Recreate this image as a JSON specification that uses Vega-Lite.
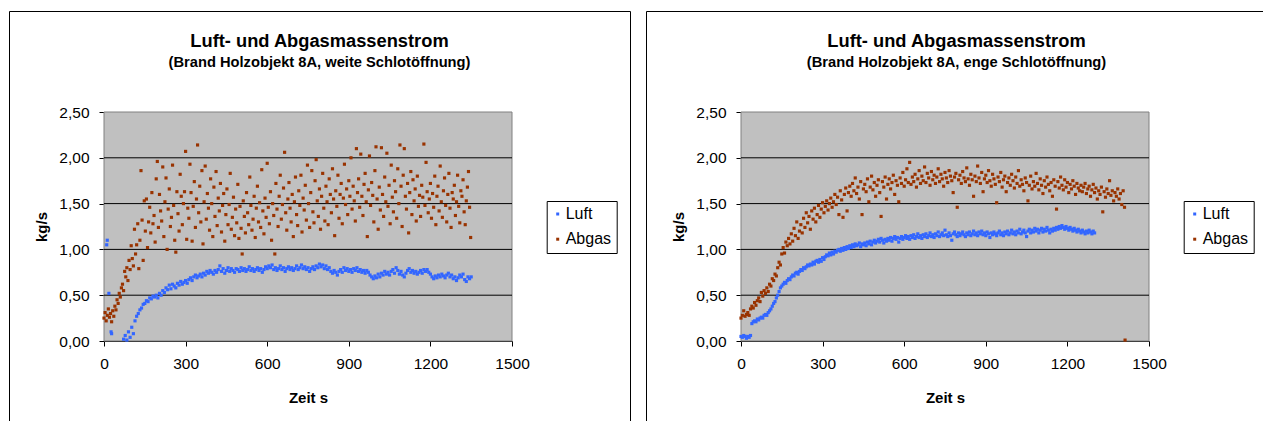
{
"$schema": "https://vega.github.io/schema/vega-lite/v6.json",
"padding": {"left": 8, "top": 10, "right": 0, "bottom": 0},
"background": "white",
"spacing": 14,
"config": {
  "view": {"stroke": "black", "strokeWidth": 1, "fill": "white"},
  "font": "Liberation Sans",
  "axis": {"grid": false, "domainColor": "black", "tickColor": "black", "tickSize": 5, "labelColor": "black", "titleColor": "black", "labelFont": "Liberation Sans", "labelFontSize": 15.5, "titleFont": "Liberation Sans", "titleFontSize": 15, "titleFontWeight": "bold", "zindex": 1, "labelFlush": false, "labelOverlap": false},
  "legend": {"orient": "none", "legendX": 537.7, "legendY": 190, "title": null, "padding": 5, "strokeColor": "black", "fillColor": "white", "symbolType": "square", "symbolSize": 9, "symbolOffset": -2, "labelOffset": 0, "labelFont": "Liberation Sans", "labelFontSize": 16, "labelColor": "black", "rowPadding": 9.2, "symbolStrokeWidth": 0},
  "title": {"font": "Liberation Sans", "fontSize": 18.3, "fontWeight": "bold", "color": "black", "subtitleFont": "Liberation Sans", "subtitleFontSize": 14.7, "subtitleFontWeight": "bold", "subtitleColor": "black", "offset": -60, "subtitlePadding": 4, "anchor": "middle", "frame": "group"}
},
"resolve": {"scale": {"color": "independent"}, "legend": {"color": "independent"}},
"datasets": {
"plot": [{"x0": 0, "x1": 1500, "y0": 0, "y1": 2.5}],
"grid": [{"g":0.5},{"g":1},{"g":1.5},{"g":2}],
"wL": [{"t":10,"v":1.05},{"t":12,"v":1.1},{"t":18,"v":0.52},{"t":26,"v":0.1},{"t":28,"v":0.08},{"t":72,"v":0.02},{"t":78,"v":0.06},{"t":84,"v":0.01},{"t":90,"v":0.1},{"t":96,"v":0.04},{"t":102,"v":0.15},{"t":108,"v":0.08},{"t":114,"v":0.22},{"t":120,"v":0.27},{"t":126,"v":0.3},{"t":132,"v":0.34},{"t":138,"v":0.36},{"t":144,"v":0.4},{"t":150,"v":0.41},{"t":156,"v":0.44},{"t":162,"v":0.43},{"t":168,"v":0.47},{"t":174,"v":0.46},{"t":180,"v":0.49},{"t":186,"v":0.48},{"t":192,"v":0.5},{"t":198,"v":0.47},{"t":204,"v":0.52},{"t":210,"v":0.5},{"t":216,"v":0.55},{"t":222,"v":0.53},{"t":228,"v":0.58},{"t":234,"v":0.56},{"t":240,"v":0.61},{"t":246,"v":0.57},{"t":252,"v":0.62},{"t":258,"v":0.6},{"t":264,"v":0.58},{"t":270,"v":0.63},{"t":276,"v":0.61},{"t":282,"v":0.65},{"t":288,"v":0.62},{"t":294,"v":0.64},{"t":300,"v":0.66},{"t":306,"v":0.63},{"t":312,"v":0.67},{"t":318,"v":0.69},{"t":324,"v":0.66},{"t":330,"v":0.7},{"t":336,"v":0.72},{"t":342,"v":0.69},{"t":348,"v":0.71},{"t":354,"v":0.73},{"t":360,"v":0.7},{"t":366,"v":0.74},{"t":372,"v":0.72},{"t":378,"v":0.76},{"t":384,"v":0.74},{"t":390,"v":0.77},{"t":396,"v":0.75},{"t":402,"v":0.73},{"t":408,"v":0.77},{"t":414,"v":0.75},{"t":420,"v":0.78},{"t":426,"v":0.82},{"t":432,"v":0.76},{"t":438,"v":0.79},{"t":444,"v":0.74},{"t":450,"v":0.77},{"t":456,"v":0.8},{"t":462,"v":0.76},{"t":468,"v":0.79},{"t":474,"v":0.77},{"t":480,"v":0.75},{"t":486,"v":0.79},{"t":492,"v":0.78},{"t":498,"v":0.76},{"t":504,"v":0.8},{"t":510,"v":0.77},{"t":516,"v":0.79},{"t":522,"v":0.76},{"t":528,"v":0.78},{"t":534,"v":0.81},{"t":540,"v":0.77},{"t":546,"v":0.79},{"t":552,"v":0.76},{"t":558,"v":0.78},{"t":564,"v":0.8},{"t":570,"v":0.77},{"t":576,"v":0.79},{"t":582,"v":0.75},{"t":588,"v":0.78},{"t":594,"v":0.81},{"t":600,"v":0.79},{"t":606,"v":0.82},{"t":612,"v":0.8},{"t":618,"v":0.83},{"t":624,"v":0.78},{"t":630,"v":0.8},{"t":636,"v":0.77},{"t":642,"v":0.79},{"t":648,"v":0.82},{"t":654,"v":0.78},{"t":660,"v":0.8},{"t":666,"v":0.76},{"t":672,"v":0.79},{"t":678,"v":0.81},{"t":684,"v":0.78},{"t":690,"v":0.8},{"t":696,"v":0.77},{"t":702,"v":0.79},{"t":708,"v":0.82},{"t":714,"v":0.78},{"t":720,"v":0.8},{"t":726,"v":0.83},{"t":732,"v":0.79},{"t":738,"v":0.81},{"t":744,"v":0.78},{"t":750,"v":0.8},{"t":756,"v":0.76},{"t":762,"v":0.79},{"t":768,"v":0.81},{"t":774,"v":0.78},{"t":780,"v":0.82},{"t":786,"v":0.8},{"t":792,"v":0.84},{"t":798,"v":0.81},{"t":804,"v":0.83},{"t":810,"v":0.79},{"t":816,"v":0.82},{"t":822,"v":0.78},{"t":828,"v":0.8},{"t":834,"v":0.76},{"t":840,"v":0.74},{"t":846,"v":0.77},{"t":852,"v":0.75},{"t":858,"v":0.72},{"t":864,"v":0.76},{"t":870,"v":0.78},{"t":876,"v":0.75},{"t":882,"v":0.8},{"t":888,"v":0.77},{"t":894,"v":0.79},{"t":900,"v":0.76},{"t":906,"v":0.78},{"t":912,"v":0.75},{"t":918,"v":0.79},{"t":924,"v":0.77},{"t":930,"v":0.8},{"t":936,"v":0.76},{"t":942,"v":0.78},{"t":948,"v":0.75},{"t":954,"v":0.77},{"t":960,"v":0.74},{"t":966,"v":0.77},{"t":972,"v":0.75},{"t":978,"v":0.72},{"t":984,"v":0.7},{"t":990,"v":0.68},{"t":996,"v":0.71},{"t":1002,"v":0.69},{"t":1008,"v":0.73},{"t":1014,"v":0.7},{"t":1020,"v":0.74},{"t":1026,"v":0.72},{"t":1032,"v":0.76},{"t":1038,"v":0.73},{"t":1044,"v":0.75},{"t":1050,"v":0.72},{"t":1056,"v":0.76},{"t":1062,"v":0.78},{"t":1068,"v":0.74},{"t":1074,"v":0.8},{"t":1080,"v":0.77},{"t":1086,"v":0.73},{"t":1092,"v":0.76},{"t":1098,"v":0.72},{"t":1104,"v":0.7},{"t":1110,"v":0.74},{"t":1116,"v":0.77},{"t":1122,"v":0.79},{"t":1128,"v":0.75},{"t":1134,"v":0.77},{"t":1140,"v":0.74},{"t":1146,"v":0.76},{"t":1152,"v":0.73},{"t":1158,"v":0.75},{"t":1164,"v":0.77},{"t":1170,"v":0.74},{"t":1176,"v":0.78},{"t":1182,"v":0.76},{"t":1188,"v":0.78},{"t":1194,"v":0.75},{"t":1200,"v":0.73},{"t":1206,"v":0.7},{"t":1212,"v":0.68},{"t":1218,"v":0.71},{"t":1224,"v":0.69},{"t":1230,"v":0.72},{"t":1236,"v":0.7},{"t":1242,"v":0.73},{"t":1248,"v":0.71},{"t":1254,"v":0.69},{"t":1260,"v":0.72},{"t":1266,"v":0.74},{"t":1272,"v":0.7},{"t":1278,"v":0.72},{"t":1284,"v":0.68},{"t":1290,"v":0.7},{"t":1296,"v":0.66},{"t":1302,"v":0.69},{"t":1308,"v":0.72},{"t":1314,"v":0.7},{"t":1320,"v":0.73},{"t":1326,"v":0.67},{"t":1332,"v":0.65},{"t":1338,"v":0.7},{"t":1344,"v":0.68},{"t":1350,"v":0.7}],
"wA": [{"t":0,"v":0.25},{"t":4,"v":0.31},{"t":8,"v":0.22},{"t":12,"v":0.28},{"t":16,"v":0.35},{"t":20,"v":0.26},{"t":24,"v":0.3},{"t":28,"v":0.21},{"t":32,"v":0.33},{"t":36,"v":0.27},{"t":40,"v":0.38},{"t":44,"v":0.34},{"t":48,"v":0.45},{"t":52,"v":0.41},{"t":56,"v":0.52},{"t":60,"v":0.48},{"t":64,"v":0.58},{"t":68,"v":0.62},{"t":72,"v":0.55},{"t":76,"v":0.76},{"t":80,"v":0.7},{"t":84,"v":0.8},{"t":88,"v":0.66},{"t":92,"v":0.88},{"t":96,"v":0.78},{"t":100,"v":1.04},{"t":104,"v":0.9},{"t":108,"v":0.82},{"t":112,"v":1.22},{"t":116,"v":0.95},{"t":120,"v":1.05},{"t":124,"v":1.28},{"t":128,"v":0.79},{"t":132,"v":1.1},{"t":136,"v":1.86},{"t":140,"v":1.32},{"t":144,"v":0.88},{"t":148,"v":1.53},{"t":152,"v":1.2},{"t":156,"v":1.55},{"t":160,"v":1.02},{"t":164,"v":1.3},{"t":168,"v":1.46},{"t":172,"v":1.18},{"t":176,"v":1.62},{"t":180,"v":1.28},{"t":184,"v":1.37},{"t":188,"v":1.08},{"t":192,"v":1.77},{"t":196,"v":1.96},{"t":200,"v":1.24},{"t":204,"v":1.6},{"t":208,"v":1.42},{"t":212,"v":1.31},{"t":216,"v":1.9},{"t":220,"v":1.14},{"t":224,"v":1.52},{"t":228,"v":1.78},{"t":232,"v":1.0},{"t":236,"v":1.44},{"t":240,"v":1.66},{"t":244,"v":1.25},{"t":248,"v":1.35},{"t":252,"v":1.92},{"t":256,"v":1.48},{"t":260,"v":1.1},{"t":264,"v":0.97},{"t":268,"v":1.63},{"t":272,"v":1.39},{"t":276,"v":1.2},{"t":280,"v":1.82},{"t":284,"v":1.58},{"t":288,"v":1.27},{"t":292,"v":1.5},{"t":296,"v":1.63},{"t":300,"v":2.07},{"t":304,"v":1.11},{"t":308,"v":1.45},{"t":312,"v":1.34},{"t":316,"v":1.93},{"t":320,"v":1.62},{"t":324,"v":1.09},{"t":328,"v":1.47},{"t":332,"v":1.74},{"t":336,"v":1.24},{"t":340,"v":1.55},{"t":344,"v":2.14},{"t":348,"v":1.4},{"t":352,"v":1.69},{"t":356,"v":1.3},{"t":360,"v":1.86},{"t":364,"v":1.06},{"t":368,"v":1.52},{"t":372,"v":1.91},{"t":376,"v":1.33},{"t":380,"v":1.61},{"t":384,"v":1.45},{"t":388,"v":1.21},{"t":392,"v":1.77},{"t":396,"v":1.5},{"t":400,"v":1.14},{"t":404,"v":1.68},{"t":408,"v":1.36},{"t":412,"v":1.85},{"t":416,"v":1.26},{"t":420,"v":1.56},{"t":424,"v":1.42},{"t":428,"v":1.72},{"t":432,"v":1.19},{"t":436,"v":1.48},{"t":440,"v":1.61},{"t":444,"v":1.09},{"t":448,"v":1.38},{"t":452,"v":1.66},{"t":456,"v":1.27},{"t":460,"v":1.49},{"t":464,"v":1.83},{"t":468,"v":1.22},{"t":472,"v":1.35},{"t":476,"v":1.57},{"t":480,"v":1.15},{"t":484,"v":1.44},{"t":488,"v":1.29},{"t":492,"v":1.71},{"t":496,"v":1.12},{"t":500,"v":1.47},{"t":504,"v":1.23},{"t":508,"v":0.95},{"t":512,"v":1.53},{"t":516,"v":1.36},{"t":520,"v":1.18},{"t":524,"v":1.62},{"t":528,"v":1.4},{"t":532,"v":1.27},{"t":536,"v":1.79},{"t":540,"v":1.48},{"t":544,"v":1.21},{"t":548,"v":1.33},{"t":552,"v":1.58},{"t":556,"v":1.13},{"t":560,"v":1.45},{"t":564,"v":1.69},{"t":568,"v":1.3},{"t":572,"v":1.51},{"t":576,"v":1.24},{"t":580,"v":1.87},{"t":584,"v":1.42},{"t":588,"v":1.17},{"t":592,"v":1.56},{"t":596,"v":1.35},{"t":600,"v":1.94},{"t":604,"v":1.46},{"t":608,"v":1.28},{"t":612,"v":1.63},{"t":616,"v":1.1},{"t":620,"v":1.5},{"t":624,"v":1.37},{"t":628,"v":0.95},{"t":632,"v":1.72},{"t":636,"v":1.44},{"t":640,"v":1.25},{"t":644,"v":1.58},{"t":648,"v":1.81},{"t":652,"v":1.33},{"t":656,"v":1.49},{"t":660,"v":1.67},{"t":664,"v":2.06},{"t":668,"v":1.4},{"t":672,"v":1.21},{"t":676,"v":1.55},{"t":680,"v":1.73},{"t":684,"v":1.45},{"t":688,"v":1.3},{"t":692,"v":1.6},{"t":696,"v":1.14},{"t":700,"v":1.52},{"t":704,"v":1.79},{"t":708,"v":1.38},{"t":712,"v":1.26},{"t":716,"v":1.64},{"t":720,"v":1.48},{"t":724,"v":1.81},{"t":728,"v":1.19},{"t":732,"v":1.56},{"t":736,"v":1.43},{"t":740,"v":1.7},{"t":744,"v":1.32},{"t":748,"v":1.92},{"t":752,"v":1.5},{"t":756,"v":1.24},{"t":760,"v":1.62},{"t":764,"v":1.86},{"t":768,"v":1.41},{"t":772,"v":1.29},{"t":776,"v":1.75},{"t":780,"v":1.98},{"t":784,"v":1.53},{"t":788,"v":1.36},{"t":792,"v":1.66},{"t":796,"v":1.22},{"t":800,"v":1.58},{"t":804,"v":1.83},{"t":808,"v":1.45},{"t":812,"v":1.31},{"t":816,"v":1.69},{"t":820,"v":1.52},{"t":824,"v":1.27},{"t":828,"v":1.77},{"t":832,"v":1.6},{"t":836,"v":1.4},{"t":840,"v":1.88},{"t":844,"v":1.55},{"t":848,"v":1.15},{"t":852,"v":1.64},{"t":856,"v":1.47},{"t":860,"v":1.81},{"t":864,"v":1.34},{"t":868,"v":1.6},{"t":872,"v":1.72},{"t":876,"v":1.28},{"t":880,"v":1.56},{"t":884,"v":1.93},{"t":888,"v":1.49},{"t":892,"v":1.66},{"t":896,"v":1.38},{"t":900,"v":1.75},{"t":904,"v":1.58},{"t":908,"v":2.0},{"t":912,"v":1.44},{"t":916,"v":1.69},{"t":920,"v":1.53},{"t":924,"v":1.31},{"t":928,"v":2.1},{"t":932,"v":1.62},{"t":936,"v":1.77},{"t":940,"v":1.46},{"t":944,"v":2.04},{"t":948,"v":1.58},{"t":952,"v":1.37},{"t":956,"v":1.71},{"t":960,"v":1.83},{"t":964,"v":1.52},{"t":968,"v":1.14},{"t":972,"v":1.65},{"t":976,"v":2.02},{"t":980,"v":1.48},{"t":984,"v":1.73},{"t":988,"v":1.59},{"t":992,"v":1.3},{"t":996,"v":1.86},{"t":1000,"v":2.12},{"t":1004,"v":1.55},{"t":1008,"v":1.22},{"t":1012,"v":1.68},{"t":1016,"v":1.43},{"t":1020,"v":2.11},{"t":1024,"v":1.6},{"t":1028,"v":1.36},{"t":1032,"v":1.79},{"t":1036,"v":1.52},{"t":1040,"v":2.05},{"t":1044,"v":1.47},{"t":1048,"v":1.7},{"t":1052,"v":1.28},{"t":1056,"v":1.92},{"t":1060,"v":1.57},{"t":1064,"v":1.41},{"t":1068,"v":1.75},{"t":1072,"v":1.63},{"t":1076,"v":1.34},{"t":1080,"v":1.88},{"t":1084,"v":1.5},{"t":1088,"v":2.14},{"t":1092,"v":1.69},{"t":1096,"v":1.25},{"t":1100,"v":1.81},{"t":1104,"v":2.1},{"t":1108,"v":1.58},{"t":1112,"v":1.44},{"t":1116,"v":1.72},{"t":1120,"v":1.18},{"t":1124,"v":1.62},{"t":1128,"v":1.85},{"t":1132,"v":1.38},{"t":1136,"v":1.76},{"t":1140,"v":1.53},{"t":1144,"v":1.66},{"t":1148,"v":1.31},{"t":1152,"v":1.8},{"t":1156,"v":1.47},{"t":1160,"v":1.59},{"t":1164,"v":1.36},{"t":1168,"v":1.7},{"t":1172,"v":1.57},{"t":1176,"v":2.15},{"t":1180,"v":1.48},{"t":1184,"v":1.95},{"t":1188,"v":1.63},{"t":1192,"v":1.4},{"t":1196,"v":1.55},{"t":1200,"v":1.72},{"t":1204,"v":1.34},{"t":1208,"v":1.61},{"t":1212,"v":1.46},{"t":1216,"v":1.8},{"t":1220,"v":1.27},{"t":1224,"v":1.58},{"t":1228,"v":1.69},{"t":1232,"v":1.42},{"t":1236,"v":1.91},{"t":1240,"v":1.52},{"t":1244,"v":1.35},{"t":1248,"v":1.64},{"t":1252,"v":1.78},{"t":1256,"v":1.48},{"t":1260,"v":1.3},{"t":1264,"v":1.6},{"t":1268,"v":1.83},{"t":1272,"v":1.45},{"t":1276,"v":1.24},{"t":1280,"v":1.62},{"t":1284,"v":1.55},{"t":1288,"v":1.7},{"t":1292,"v":1.37},{"t":1296,"v":1.52},{"t":1300,"v":1.81},{"t":1304,"v":1.47},{"t":1308,"v":1.29},{"t":1312,"v":1.64},{"t":1316,"v":1.58},{"t":1320,"v":1.76},{"t":1324,"v":1.41},{"t":1328,"v":1.27},{"t":1332,"v":1.53},{"t":1336,"v":1.68},{"t":1340,"v":1.85},{"t":1344,"v":1.46},{"t":1348,"v":1.13}],
"eL": [{"t":0,"v":0.05},{"t":5,"v":0.04},{"t":10,"v":0.06},{"t":15,"v":0.05},{"t":20,"v":0.03},{"t":25,"v":0.05},{"t":30,"v":0.04},{"t":35,"v":0.06},{"t":40,"v":0.19},{"t":45,"v":0.21},{"t":50,"v":0.22},{"t":55,"v":0.21},{"t":60,"v":0.24},{"t":65,"v":0.23},{"t":70,"v":0.25},{"t":75,"v":0.26},{"t":80,"v":0.25},{"t":85,"v":0.28},{"t":90,"v":0.29},{"t":95,"v":0.28},{"t":100,"v":0.31},{"t":105,"v":0.33},{"t":110,"v":0.35},{"t":115,"v":0.38},{"t":120,"v":0.41},{"t":125,"v":0.43},{"t":130,"v":0.47},{"t":135,"v":0.5},{"t":140,"v":0.54},{"t":145,"v":0.58},{"t":150,"v":0.6},{"t":155,"v":0.62},{"t":160,"v":0.64},{"t":165,"v":0.63},{"t":170,"v":0.66},{"t":175,"v":0.68},{"t":180,"v":0.67},{"t":185,"v":0.7},{"t":190,"v":0.72},{"t":195,"v":0.71},{"t":200,"v":0.74},{"t":205,"v":0.75},{"t":210,"v":0.73},{"t":215,"v":0.76},{"t":220,"v":0.78},{"t":225,"v":0.77},{"t":230,"v":0.8},{"t":235,"v":0.79},{"t":240,"v":0.81},{"t":245,"v":0.83},{"t":250,"v":0.82},{"t":255,"v":0.84},{"t":260,"v":0.83},{"t":265,"v":0.86},{"t":270,"v":0.84},{"t":275,"v":0.87},{"t":280,"v":0.88},{"t":285,"v":0.86},{"t":290,"v":0.89},{"t":295,"v":0.87},{"t":300,"v":0.91},{"t":305,"v":0.89},{"t":310,"v":0.92},{"t":315,"v":0.94},{"t":320,"v":0.93},{"t":325,"v":0.96},{"t":330,"v":0.94},{"t":335,"v":0.97},{"t":340,"v":0.95},{"t":345,"v":0.98},{"t":350,"v":0.97},{"t":355,"v":0.99},{"t":360,"v":1.0},{"t":365,"v":0.98},{"t":370,"v":1.01},{"t":375,"v":0.99},{"t":380,"v":1.02},{"t":385,"v":1.0},{"t":390,"v":1.03},{"t":395,"v":1.01},{"t":400,"v":1.04},{"t":405,"v":1.02},{"t":410,"v":1.05},{"t":415,"v":1.03},{"t":420,"v":1.06},{"t":425,"v":1.04},{"t":430,"v":1.05},{"t":435,"v":1.07},{"t":440,"v":1.03},{"t":445,"v":1.06},{"t":450,"v":1.05},{"t":455,"v":1.07},{"t":460,"v":1.04},{"t":465,"v":1.08},{"t":470,"v":1.06},{"t":475,"v":1.09},{"t":480,"v":1.05},{"t":485,"v":1.08},{"t":490,"v":1.1},{"t":495,"v":1.07},{"t":500,"v":1.09},{"t":505,"v":1.11},{"t":510,"v":1.08},{"t":515,"v":1.12},{"t":520,"v":1.1},{"t":525,"v":1.07},{"t":530,"v":1.11},{"t":535,"v":1.09},{"t":540,"v":1.12},{"t":545,"v":1.1},{"t":550,"v":1.13},{"t":555,"v":1.09},{"t":560,"v":1.12},{"t":565,"v":1.14},{"t":570,"v":1.11},{"t":575,"v":1.13},{"t":580,"v":1.08},{"t":585,"v":1.12},{"t":590,"v":1.14},{"t":595,"v":1.11},{"t":600,"v":1.13},{"t":605,"v":1.15},{"t":610,"v":1.12},{"t":615,"v":1.14},{"t":620,"v":1.11},{"t":625,"v":1.15},{"t":630,"v":1.13},{"t":635,"v":1.16},{"t":640,"v":1.12},{"t":645,"v":1.14},{"t":650,"v":1.17},{"t":655,"v":1.13},{"t":660,"v":1.15},{"t":665,"v":1.12},{"t":670,"v":1.16},{"t":675,"v":1.14},{"t":680,"v":1.17},{"t":685,"v":1.13},{"t":690,"v":1.15},{"t":695,"v":1.18},{"t":700,"v":1.14},{"t":705,"v":1.16},{"t":710,"v":1.13},{"t":715,"v":1.17},{"t":720,"v":1.15},{"t":725,"v":1.19},{"t":730,"v":1.14},{"t":735,"v":1.16},{"t":740,"v":1.18},{"t":745,"v":1.15},{"t":750,"v":1.21},{"t":755,"v":1.16},{"t":760,"v":1.14},{"t":765,"v":1.18},{"t":770,"v":1.15},{"t":775,"v":1.1},{"t":780,"v":1.17},{"t":785,"v":1.19},{"t":790,"v":1.16},{"t":795,"v":1.14},{"t":800,"v":1.18},{"t":805,"v":1.15},{"t":810,"v":1.17},{"t":815,"v":1.19},{"t":820,"v":1.16},{"t":825,"v":1.14},{"t":830,"v":1.18},{"t":835,"v":1.16},{"t":840,"v":1.19},{"t":845,"v":1.15},{"t":850,"v":1.17},{"t":855,"v":1.2},{"t":860,"v":1.16},{"t":865,"v":1.18},{"t":870,"v":1.15},{"t":875,"v":1.19},{"t":880,"v":1.17},{"t":885,"v":1.2},{"t":890,"v":1.16},{"t":895,"v":1.18},{"t":900,"v":1.15},{"t":905,"v":1.19},{"t":910,"v":1.17},{"t":915,"v":1.13},{"t":920,"v":1.18},{"t":925,"v":1.16},{"t":930,"v":1.19},{"t":935,"v":1.17},{"t":940,"v":1.15},{"t":945,"v":1.18},{"t":950,"v":1.2},{"t":955,"v":1.16},{"t":960,"v":1.18},{"t":965,"v":1.15},{"t":970,"v":1.19},{"t":975,"v":1.17},{"t":980,"v":1.2},{"t":985,"v":1.16},{"t":990,"v":1.18},{"t":995,"v":1.21},{"t":1000,"v":1.17},{"t":1005,"v":1.19},{"t":1010,"v":1.16},{"t":1015,"v":1.2},{"t":1020,"v":1.18},{"t":1025,"v":1.22},{"t":1030,"v":1.17},{"t":1035,"v":1.19},{"t":1040,"v":1.21},{"t":1045,"v":1.18},{"t":1050,"v":1.14},{"t":1055,"v":1.2},{"t":1060,"v":1.22},{"t":1065,"v":1.18},{"t":1070,"v":1.21},{"t":1075,"v":1.19},{"t":1080,"v":1.23},{"t":1085,"v":1.2},{"t":1090,"v":1.22},{"t":1095,"v":1.18},{"t":1100,"v":1.21},{"t":1105,"v":1.23},{"t":1110,"v":1.19},{"t":1115,"v":1.22},{"t":1120,"v":1.2},{"t":1125,"v":1.24},{"t":1130,"v":1.21},{"t":1135,"v":1.18},{"t":1140,"v":1.22},{"t":1145,"v":1.2},{"t":1150,"v":1.23},{"t":1155,"v":1.21},{"t":1160,"v":1.24},{"t":1165,"v":1.22},{"t":1170,"v":1.25},{"t":1175,"v":1.23},{"t":1180,"v":1.26},{"t":1185,"v":1.24},{"t":1190,"v":1.22},{"t":1195,"v":1.25},{"t":1200,"v":1.23},{"t":1205,"v":1.21},{"t":1210,"v":1.24},{"t":1215,"v":1.22},{"t":1220,"v":1.2},{"t":1225,"v":1.23},{"t":1230,"v":1.21},{"t":1235,"v":1.19},{"t":1240,"v":1.22},{"t":1245,"v":1.2},{"t":1250,"v":1.18},{"t":1255,"v":1.21},{"t":1260,"v":1.19},{"t":1265,"v":1.17},{"t":1270,"v":1.2},{"t":1275,"v":1.18},{"t":1280,"v":1.21},{"t":1285,"v":1.19},{"t":1290,"v":1.17},{"t":1295,"v":1.2},{"t":1300,"v":1.18}],
"eA": [{"t":0,"v":0.25},{"t":5,"v":0.28},{"t":10,"v":0.33},{"t":15,"v":0.27},{"t":20,"v":0.29},{"t":25,"v":0.31},{"t":30,"v":0.28},{"t":35,"v":0.35},{"t":40,"v":0.38},{"t":45,"v":0.36},{"t":50,"v":0.42},{"t":55,"v":0.39},{"t":60,"v":0.44},{"t":65,"v":0.47},{"t":70,"v":0.43},{"t":75,"v":0.53},{"t":80,"v":0.49},{"t":85,"v":0.55},{"t":90,"v":0.52},{"t":95,"v":0.58},{"t":100,"v":0.54},{"t":105,"v":0.62},{"t":110,"v":0.6},{"t":115,"v":0.68},{"t":120,"v":0.66},{"t":125,"v":0.73},{"t":130,"v":0.71},{"t":135,"v":0.8},{"t":140,"v":0.86},{"t":145,"v":0.83},{"t":150,"v":0.95},{"t":155,"v":1.02},{"t":160,"v":0.96},{"t":165,"v":1.08},{"t":170,"v":1.04},{"t":175,"v":1.12},{"t":180,"v":1.06},{"t":185,"v":1.17},{"t":190,"v":1.09},{"t":195,"v":1.23},{"t":200,"v":1.15},{"t":205,"v":1.3},{"t":210,"v":1.12},{"t":215,"v":1.2},{"t":220,"v":1.27},{"t":225,"v":1.18},{"t":230,"v":1.34},{"t":235,"v":1.24},{"t":240,"v":1.4},{"t":245,"v":1.29},{"t":250,"v":1.36},{"t":255,"v":1.22},{"t":260,"v":1.42},{"t":265,"v":1.33},{"t":270,"v":1.45},{"t":275,"v":1.3},{"t":280,"v":1.38},{"t":285,"v":1.48},{"t":290,"v":1.35},{"t":295,"v":1.44},{"t":300,"v":1.51},{"t":305,"v":1.4},{"t":310,"v":1.47},{"t":315,"v":1.53},{"t":320,"v":1.43},{"t":325,"v":1.5},{"t":330,"v":1.56},{"t":335,"v":1.46},{"t":340,"v":1.52},{"t":345,"v":1.6},{"t":350,"v":1.49},{"t":355,"v":1.57},{"t":360,"v":1.38},{"t":365,"v":1.64},{"t":370,"v":1.54},{"t":375,"v":1.35},{"t":380,"v":1.6},{"t":385,"v":1.67},{"t":390,"v":1.42},{"t":395,"v":1.62},{"t":400,"v":1.69},{"t":405,"v":1.58},{"t":410,"v":1.72},{"t":415,"v":1.64},{"t":420,"v":1.78},{"t":425,"v":1.61},{"t":430,"v":1.68},{"t":435,"v":1.55},{"t":440,"v":1.74},{"t":445,"v":1.38},{"t":450,"v":1.66},{"t":455,"v":1.71},{"t":460,"v":1.63},{"t":465,"v":1.77},{"t":470,"v":1.52},{"t":475,"v":1.68},{"t":480,"v":1.8},{"t":485,"v":1.65},{"t":490,"v":1.73},{"t":495,"v":1.58},{"t":500,"v":1.7},{"t":505,"v":1.76},{"t":510,"v":1.62},{"t":515,"v":1.36},{"t":520,"v":1.74},{"t":525,"v":1.68},{"t":530,"v":1.79},{"t":535,"v":1.55},{"t":540,"v":1.71},{"t":545,"v":1.77},{"t":550,"v":1.66},{"t":555,"v":1.73},{"t":560,"v":1.81},{"t":565,"v":1.6},{"t":570,"v":1.75},{"t":575,"v":1.7},{"t":580,"v":1.52},{"t":585,"v":1.78},{"t":590,"v":1.72},{"t":595,"v":1.84},{"t":600,"v":1.69},{"t":605,"v":1.76},{"t":610,"v":1.88},{"t":615,"v":1.73},{"t":620,"v":1.95},{"t":625,"v":1.71},{"t":630,"v":1.79},{"t":635,"v":1.74},{"t":640,"v":1.82},{"t":645,"v":1.68},{"t":650,"v":1.77},{"t":655,"v":1.86},{"t":660,"v":1.72},{"t":665,"v":1.8},{"t":670,"v":1.75},{"t":675,"v":1.9},{"t":680,"v":1.73},{"t":685,"v":1.83},{"t":690,"v":1.78},{"t":695,"v":1.7},{"t":700,"v":1.85},{"t":705,"v":1.76},{"t":710,"v":1.81},{"t":715,"v":1.72},{"t":720,"v":1.79},{"t":725,"v":1.88},{"t":730,"v":1.74},{"t":735,"v":1.82},{"t":740,"v":1.77},{"t":745,"v":1.69},{"t":750,"v":1.84},{"t":755,"v":1.78},{"t":760,"v":1.73},{"t":765,"v":1.86},{"t":770,"v":1.8},{"t":775,"v":1.75},{"t":780,"v":1.62},{"t":785,"v":1.79},{"t":790,"v":1.83},{"t":795,"v":1.46},{"t":800,"v":1.76},{"t":805,"v":1.81},{"t":810,"v":1.72},{"t":815,"v":1.85},{"t":820,"v":1.78},{"t":825,"v":1.74},{"t":830,"v":1.89},{"t":835,"v":1.77},{"t":840,"v":1.7},{"t":845,"v":1.82},{"t":850,"v":1.76},{"t":855,"v":1.58},{"t":860,"v":1.8},{"t":865,"v":1.74},{"t":870,"v":1.91},{"t":875,"v":1.78},{"t":880,"v":1.72},{"t":885,"v":1.84},{"t":890,"v":1.63},{"t":895,"v":1.77},{"t":900,"v":1.81},{"t":905,"v":1.73},{"t":910,"v":1.86},{"t":915,"v":1.75},{"t":920,"v":1.69},{"t":925,"v":1.82},{"t":930,"v":1.77},{"t":935,"v":1.71},{"t":940,"v":1.51},{"t":945,"v":1.79},{"t":950,"v":1.74},{"t":955,"v":1.84},{"t":960,"v":1.68},{"t":965,"v":1.76},{"t":970,"v":1.8},{"t":975,"v":1.63},{"t":980,"v":1.73},{"t":985,"v":1.78},{"t":990,"v":1.7},{"t":995,"v":1.82},{"t":1000,"v":1.75},{"t":1005,"v":1.67},{"t":1010,"v":1.79},{"t":1015,"v":1.72},{"t":1020,"v":1.86},{"t":1025,"v":1.69},{"t":1030,"v":1.76},{"t":1035,"v":1.71},{"t":1040,"v":1.64},{"t":1045,"v":1.78},{"t":1050,"v":1.73},{"t":1055,"v":1.53},{"t":1060,"v":1.7},{"t":1065,"v":1.8},{"t":1070,"v":1.66},{"t":1075,"v":1.74},{"t":1080,"v":1.69},{"t":1085,"v":1.83},{"t":1090,"v":1.72},{"t":1095,"v":1.65},{"t":1100,"v":1.77},{"t":1105,"v":1.7},{"t":1110,"v":1.61},{"t":1115,"v":1.75},{"t":1120,"v":1.68},{"t":1125,"v":1.79},{"t":1130,"v":1.71},{"t":1135,"v":1.64},{"t":1140,"v":1.73},{"t":1145,"v":1.58},{"t":1150,"v":1.76},{"t":1155,"v":1.69},{"t":1160,"v":1.44},{"t":1165,"v":1.74},{"t":1170,"v":1.67},{"t":1175,"v":1.79},{"t":1180,"v":1.7},{"t":1185,"v":1.65},{"t":1190,"v":1.76},{"t":1195,"v":1.68},{"t":1200,"v":1.73},{"t":1205,"v":1.62},{"t":1210,"v":1.71},{"t":1215,"v":1.66},{"t":1220,"v":1.75},{"t":1225,"v":1.69},{"t":1230,"v":1.6},{"t":1235,"v":1.72},{"t":1240,"v":1.67},{"t":1245,"v":1.64},{"t":1250,"v":1.7},{"t":1255,"v":1.63},{"t":1260,"v":1.68},{"t":1265,"v":1.72},{"t":1270,"v":1.61},{"t":1275,"v":1.66},{"t":1280,"v":1.69},{"t":1285,"v":1.58},{"t":1290,"v":1.65},{"t":1295,"v":1.71},{"t":1300,"v":1.62},{"t":1305,"v":1.67},{"t":1310,"v":1.55},{"t":1315,"v":1.64},{"t":1320,"v":1.6},{"t":1325,"v":1.68},{"t":1330,"v":1.41},{"t":1335,"v":1.63},{"t":1340,"v":1.57},{"t":1345,"v":1.66},{"t":1350,"v":1.61},{"t":1355,"v":1.75},{"t":1360,"v":1.59},{"t":1365,"v":1.64},{"t":1370,"v":1.53},{"t":1375,"v":1.62},{"t":1380,"v":1.58},{"t":1385,"v":1.66},{"t":1390,"v":1.55},{"t":1395,"v":1.61},{"t":1400,"v":1.49},{"t":1405,"v":1.64},{"t":1410,"v":1.46},{"t":1412,"v":0.01}]
},
"hconcat": [
{
  "width": 621, "height": 413,
  "title": {"text": "Luft- und Abgasmassenstrom", "subtitle": "(Brand Holzobjekt 8A, weite Schlotöffnung)"},
  "layer": [
    {"data": {"name": "plot"}, "mark": {"type": "rect", "fill": "#C0C0C0", "stroke": "#808080", "strokeWidth": 1},
     "encoding": {
       "x": {"field": "x0", "type": "quantitative", "scale": {"domain": [0, 1500], "range": [95, 503], "nice": false, "zero": false},
             "axis": {"title": "Zeit s", "values": [0, 300, 600, 900, 1200, 1500], "format": "d", "offset": -83, "labelPadding": 10, "titleY": 61, "titleBaseline": "alphabetic"}},
       "x2": {"field": "x1"},
       "y": {"field": "y0", "type": "quantitative", "scale": {"domain": [0, 2.5], "range": [330, 101], "nice": false, "zero": false},
             "axis": {"title": "kg/s", "values": [0, 0.5, 1, 1.5, 2, 2.5], "labelExpr": "replace(format(datum.value, '.2f'), '.', ',')", "offset": -95, "labelPadding": 10, "titleX": -62.5, "titleY": 215.5, "titleBaseline": "middle"}},
       "y2": {"field": "y1"}}},
    {"data": {"name": "grid"}, "mark": {"type": "rule", "color": "black", "strokeWidth": 1},
     "encoding": {"y": {"field": "g", "type": "quantitative", "title": "kg/s"}, "x": {"datum": 0, "type": "quantitative"}, "x2": {"datum": 1500}}},
    {"data": {"name": "wL"}, "mark": {"type": "square", "size": 10, "opacity": 1},
     "encoding": {"x": {"field": "t", "type": "quantitative", "title": "Zeit s"}, "y": {"field": "v", "type": "quantitative", "title": "kg/s"},
       "color": {"datum": "Luft", "type": "nominal", "scale": {"domain": ["Luft", "Abgas"], "range": ["#3366FF", "#993300"]}}}},
    {"data": {"name": "wA"}, "mark": {"type": "square", "size": 10, "opacity": 1},
     "encoding": {"x": {"field": "t", "type": "quantitative", "title": "Zeit s"}, "y": {"field": "v", "type": "quantitative", "title": "kg/s"},
       "color": {"datum": "Abgas", "type": "nominal"}}}
  ]
},
{
  "width": 621, "height": 413,
  "title": {"text": "Luft- und Abgasmassenstrom", "subtitle": "(Brand Holzobjekt 8A, enge Schlotöffnung)"},
  "layer": [
    {"data": {"name": "plot"}, "mark": {"type": "rect", "fill": "#C0C0C0", "stroke": "#808080", "strokeWidth": 1},
     "encoding": {
       "x": {"field": "x0", "type": "quantitative", "scale": {"domain": [0, 1500], "range": [95, 503], "nice": false, "zero": false},
             "axis": {"title": "Zeit s", "values": [0, 300, 600, 900, 1200, 1500], "format": "d", "offset": -83, "labelPadding": 10, "titleY": 61, "titleBaseline": "alphabetic"}},
       "x2": {"field": "x1"},
       "y": {"field": "y0", "type": "quantitative", "scale": {"domain": [0, 2.5], "range": [330, 101], "nice": false, "zero": false},
             "axis": {"title": "kg/s", "values": [0, 0.5, 1, 1.5, 2, 2.5], "labelExpr": "replace(format(datum.value, '.2f'), '.', ',')", "offset": -95, "labelPadding": 10, "titleX": -62.5, "titleY": 215.5, "titleBaseline": "middle"}},
       "y2": {"field": "y1"}}},
    {"data": {"name": "grid"}, "mark": {"type": "rule", "color": "black", "strokeWidth": 1},
     "encoding": {"y": {"field": "g", "type": "quantitative", "title": "kg/s"}, "x": {"datum": 0, "type": "quantitative"}, "x2": {"datum": 1500}}},
    {"data": {"name": "eL"}, "mark": {"type": "square", "size": 10, "opacity": 1},
     "encoding": {"x": {"field": "t", "type": "quantitative", "title": "Zeit s"}, "y": {"field": "v", "type": "quantitative", "title": "kg/s"},
       "color": {"datum": "Luft", "type": "nominal", "scale": {"domain": ["Luft", "Abgas"], "range": ["#3366FF", "#993300"]}}}},
    {"data": {"name": "eA"}, "mark": {"type": "square", "size": 10, "opacity": 1},
     "encoding": {"x": {"field": "t", "type": "quantitative", "title": "Zeit s"}, "y": {"field": "v", "type": "quantitative", "title": "kg/s"},
       "color": {"datum": "Abgas", "type": "nominal"}}}
  ]
}
]
}
